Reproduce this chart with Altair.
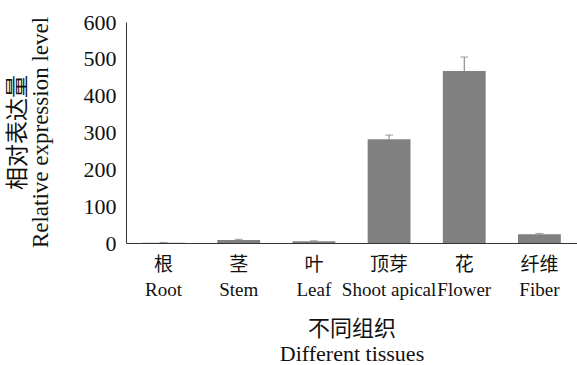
import altair as alt
import pandas as pd

tissue_cn = ["根", "茎", "叶", "顶芽", "花", "纤维"]
tissue_en = ["Root", "Stem", "Leaf", "Shoot apical", "Flower", "Fiber"]
expression = [1, 8, 5, 282, 467, 24]
error = [0.5, 2, 1, 11, 38, 2]

df = pd.DataFrame({
    "tissue": [f"{c}|{e}" for c, e in zip(tissue_cn, tissue_en)],
    "value": expression,
    "err": error,
})
df["top"] = df["value"] + df["err"]

FONT = "Liberation Serif, Noto Sans CJK SC"

x_axis = alt.Axis(
    title=["不同组织", "Different tissues"],
    labelExpr="split(datum.label, '|')",
    labelAngle=0,
    labelLineHeight=25,
    labelPadding=12,
    labelOverlap=False,
    labelLimit=0,
    titleFontSize=22,
    titleLineHeight=25,
    titleBaseline="top",
    titleY=75,
)

y_axis = alt.Axis(
    title=["相对表达量", "Relative expression level"],
    values=[0, 100, 200, 300, 400, 500, 600],
    labelFont="Liberation Serif",
    labelFontSize=22,
    labelPadding=10,
    labelOverlap=False,
    titleFontSize=23,
    titleLineHeight=23,
    titleAngle=-90,
    titleAlign="center",
    titleBaseline="middle",
    titleX=-109,
    titleY=110,
)

x_enc = alt.X(
    "tissue:N",
    sort=None,
    scale=alt.Scale(paddingInner=0.43, paddingOuter=0.215),
    axis=x_axis,
)
y_scale = alt.Scale(domain=[0, 600], nice=False)

base = alt.Chart(df)

bars = base.mark_bar(color="#808080").encode(
    x=x_enc,
    y=alt.Y("value:Q", scale=y_scale, axis=y_axis),
)

err_rule = base.mark_rule(color="#777", strokeWidth=1).encode(
    x=x_enc,
    y=alt.Y("value:Q", scale=y_scale, axis=y_axis),
    y2="top:Q",
)

caps = base.mark_tick(color="#777", size=8, thickness=1, orient="horizontal").encode(
    x=x_enc,
    y=alt.Y("top:Q", scale=y_scale, axis=y_axis),
)

chart = (
    alt.layer(bars, err_rule, caps)
    .properties(
        width=451,
        height=221,
        autosize=alt.AutoSizeParams(type="none"),
        padding={"left": 126, "top": 22, "right": 0, "bottom": 122},
        background="white",
    )
    .configure_view(stroke=None)
    .configure_axis(
        labelFont=FONT,
        labelFontSize=19,
        labelColor="#111",
        titleFont=FONT,
        titleFontWeight="normal",
        titleColor="#111",
        grid=False,
        ticks=False,
        domainColor="#333",
        domainWidth=1,
    )
)

chart.save("out.html", embed_options={"renderer": "svg", "actions": False})
